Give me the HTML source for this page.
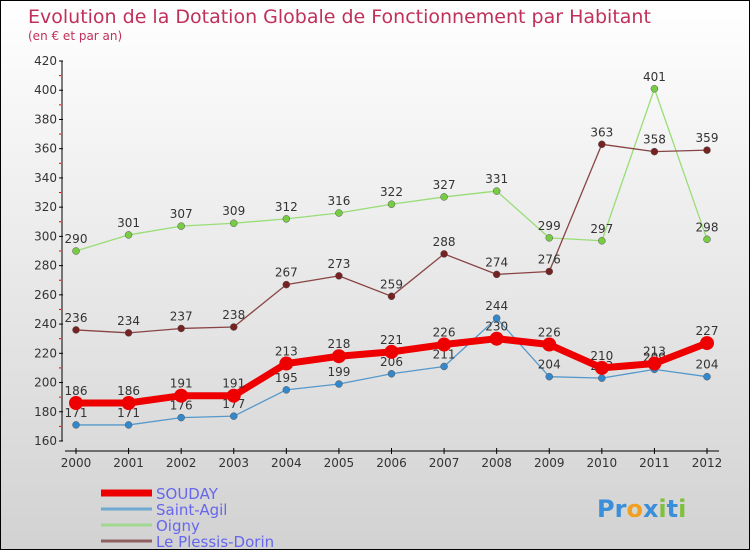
<!DOCTYPE html>
<html><head><meta charset="utf-8"><style>
body{margin:0}
#c{width:750px;height:550px;position:relative;box-sizing:border-box;border:1px solid #000;background:linear-gradient(#ffffff,#d2d2d2);font-family:"DejaVu Sans","Liberation Sans",sans-serif;overflow:hidden}
svg text{font-family:"DejaVu Sans","Liberation Sans",sans-serif}
</style></head><body>
<div id="c">
<svg id="s" width="750" height="550">
<text x="27" y="22" font-size="19" fill="#c0305a">Evolution de la Dotation Globale de Fonctionnement par Habitant</text>
<text x="27" y="39" font-size="12" fill="#c0305a">(en € et par an)</text>
<g id="g"></g>
<text x="596" y="516" font-size="24" font-weight="bold"><tspan fill="#3a8fd8">Pr</tspan><tspan fill="#f0a020">o</tspan><tspan fill="#3a8fd8">x</tspan><tspan fill="#80c040">i</tspan><tspan fill="#3a8fd8">t</tspan><tspan fill="#80c040">i</tspan></text>
</svg></div>
<script>
const years=[2000,2001,2002,2003,2004,2005,2006,2007,2008,2009,2010,2011,2012];
const yTicks=[160,180,200,220,240,260,280,300,320,340,360,380,400,420];
const souday=[186,186,191,191,213,218,221,226,230,226,210,213,227];
const saintAgil=[171,171,176,177,195,199,206,211,244,204,203,209,204];
const oigny=[290,301,307,309,312,316,322,327,331,299,297,401,298];
const plessis=[236,234,237,238,267,273,259,288,274,276,363,358,359];
const NS="http://www.w3.org/2000/svg";
const g=document.getElementById('g');
const X=i=>75+i*(706-75)/12;
const Y=v=>440-(v-160)*(380/260);
function el(t,a){const e=document.createElementNS(NS,t);for(const k in a)e.setAttribute(k,a[k]);g.appendChild(e);return e;}
let e=el('line',{x1:61,y1:60,x2:61,y2:440,stroke:'#000'});

e=el('line',{x1:64,y1:450,x2:718,y2:450,stroke:'#000'});

yTicks.forEach((v,i)=>{
 el('line',{x1:58,y1:Y(v),x2:62,y2:Y(v),stroke:'#000'});
 if(i<yTicks.length-1){el('line',{x1:58,y1:Y(v+10),x2:60,y2:Y(v+10),stroke:'#e00'});}
 const t=el('text',{x:56,y:Y(v)+4,'font-size':12,fill:'#333','text-anchor':'end'});t.textContent=v;
 
});
years.forEach((y,i)=>{
 el('line',{x1:X(i),y1:447,x2:X(i),y2:453,stroke:'#000'});
 const t=el('text',{x:X(i),y:466,'font-size':12,fill:'#333','text-anchor':'middle'});t.textContent=y;
 
});
function series(d,col,w,r,name,dot){
 const p=el('polyline',{points:d.map((v,i)=>X(i)+','+Y(v)).join(' '),fill:'none',stroke:col,'stroke-width':w,'stroke-linejoin':'round'});
 
 d.forEach((v,i)=>{
  const c=el('circle',{cx:X(i),cy:Y(v),r:r,fill:dot,stroke:'#555','stroke-width':r>5?0:0.5});
  
  const t=el('text',{x:X(i),y:Y(v)-8,'font-size':12,fill:'#333','text-anchor':'middle'});t.textContent=v;
  
 });
}
series(oigny,'#99dd77',1.3,3.5,'oigny','#77cc44');
series(plessis,'#884444',1.3,3.5,'plessis','#772222');
series(saintAgil,'#5599cc',1.3,3.5,'saint-agil','#3388cc');
series(souday,'#ee0000',7,7,'souday','#ee0000');
const leg=[['SOUDAY','#ee0000',7],['Saint-Agil','#6fa8d0',3],['Oigny','#a0d890',3],['Le Plessis-Dorin','#906060',3]];
leg.forEach((l,i)=>{
 const y=492+i*16;
 el('line',{x1:100,y1:y,x2:151,y2:y,stroke:l[1],'stroke-width':l[2]});
 const t=el('text',{x:155,y:y+6,'font-size':15,fill:'#6666ee'});t.textContent=l[0];
 
});
</script>
</body></html>
